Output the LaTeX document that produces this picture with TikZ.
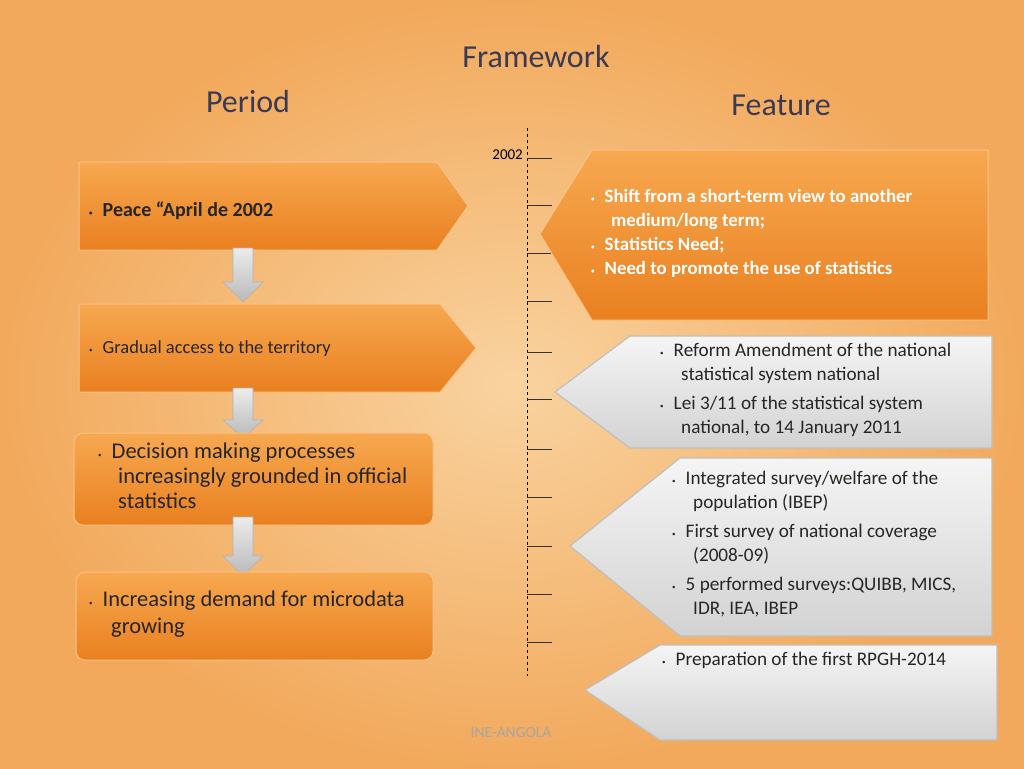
\documentclass[tikz,border=0pt]{standalone}
\usepackage{fontspec}
\setmainfont{Carlito}
\definecolor{bgin}{HTML}{F9D3A0}
\definecolor{bgout}{HTML}{F2A95C}
\definecolor{ortop}{HTML}{F7A850}
\definecolor{orbot}{HTML}{E98020}
\definecolor{ttl}{HTML}{3A3A55}
\newcommand{\bul}{{\scriptsize\raisebox{0.15em}{\textbullet}}\hspace{10pt}}
\begin{document}
\begin{tikzpicture}[x=1pt,y=-1pt,
 orbox/.style={top color=ortop, bottom color=orbot, draw=ortop!70!white, line width=1pt},
 grbox/.style={top color=gray!8, bottom color=gray!35, draw=gray!50, line width=1.2pt},
 darr/.style={top color=gray!15, bottom color=gray!55, draw=gray!60, line width=0.6pt},
 tick/.style={line width=0.8pt, black!80},
 lbl/.style={anchor=north west, align=left, font=\fontsize{19.2}{24}\selectfont, text=black!85, inner sep=0pt},
 wlbl/.style={anchor=north west, align=left, font=\fontsize{18.8}{24}\selectfont\bfseries, text=white, inner sep=0pt}]
\useasboundingbox (0,0) rectangle (1024,768);
\shade[inner color=bgin, outer color=bgout] (0,0) rectangle (1024,768);
% titles
\node[font=\fontsize{32}{34}\selectfont, text=ttl] (fw) at (536,57) {Framework};
\node[font=\fontsize{32}{34}\selectfont, text=ttl] (per) at (248,101) {Period};
\node[font=\fontsize{32}{34}\selectfont, text=ttl] (fea) at (781,105) {Feature};
% timeline
\draw[dashed, line width=0.8pt] (527,128) coordinate (t0) -- (527,676) coordinate (t1);
\foreach \y in {158,205,253,301,352,399,449,497,546,594,642} \draw[tick] (527,\y) -- (552,\y);
\node[font=\fontsize{15}{17}\selectfont, anchor=east, inner sep=1pt] (yr) at (524,155) {2002};
% left boxes
\draw[orbox] (79,162) -- (437,162) -- (468,206) -- (437,250) -- (79,250) -- cycle;
\node[lbl, anchor=west, font=\fontsize{20}{22}\selectfont\bfseries] (p1) at (89,211) {\bul Peace “April de 2002};
\draw[darr] (233,248) -- (253,248) -- (253,282) -- (263,282) -- (243,302) -- (223,282) -- (233,282) -- cycle;
\draw[orbox] (79,304) -- (440,304) -- (476,348) -- (440,392) -- (79,392) -- cycle;
\node[lbl, anchor=west, font=\fontsize{18.5}{20}\selectfont] (p2) at (89,349) {\bul Gradual access to the territory};
\draw[darr] (233,388) -- (253,388) -- (253,420) -- (263,420) -- (243,438) -- (223,420) -- (233,420) -- cycle;
\draw[orbox, rounded corners=9pt] (74,433) rectangle (433,525);
\node[lbl, font=\fontsize{22.5}{25}\selectfont] (p3) at (98,443) {\bul Decision making processes\\\hspace*{20pt}increasingly grounded in official\\\hspace*{20pt}statistics};
\draw[darr] (233,517) -- (253,517) -- (253,556) -- (263,556) -- (243,576) -- (223,556) -- (233,556) -- cycle;
\draw[orbox, rounded corners=9pt] (76,572) rectangle (433,660);
\node[lbl, font=\fontsize{22.5}{27}\selectfont] (p4) at (89,591) {\bul Increasing demand for microdata\\\hspace*{22pt}growing};
% right shapes
\draw[orbox] (540,234) -- (592,150) -- (988,150) -- (988,320) -- (592,320) -- cycle;
\node[wlbl] (f1) at (591,189) {\bul Shift from a short-term view to another\\\hspace*{20pt}medium/long term;\\\bul Statistics Need;\\\bul Need to promote the use of statistics};
\draw[grbox] (555,392) -- (630,336) -- (992,336) -- (992,448) -- (630,448) -- cycle;
\node[lbl] (f2) at (660,343) {\bul Reform Amendment of the national\\\hspace*{21pt}statistical system national\\[5pt]\bul Lei 3/11 of the statistical system\\\hspace*{21pt}national, to 14 January 2011};
\draw[grbox] (570,546) -- (680,458) -- (992,458) -- (992,636) -- (680,636) -- cycle;
\node[lbl] (f3) at (672,471) {\bul Integrated survey/welfare of the\\\hspace*{21pt}population (IBEP)\\[5pt]\bul First survey of national coverage\\\hspace*{21pt}(2008-09)\\[5pt]\bul 5 performed surveys:QUIBB, MICS,\\\hspace*{21pt}IDR, IEA, IBEP};
\draw[grbox] (585,690) -- (660,645) -- (997,645) -- (997,740) -- (660,740) -- cycle;
\node[lbl] (f4) at (662,652) {\bul Preparation of the first RPGH-2014};
\node[font=\fontsize{15.5}{17}\selectfont, text=gray!70] (ine) at (511,733) {INE-ANGOLA};
\end{tikzpicture}
\end{document}
